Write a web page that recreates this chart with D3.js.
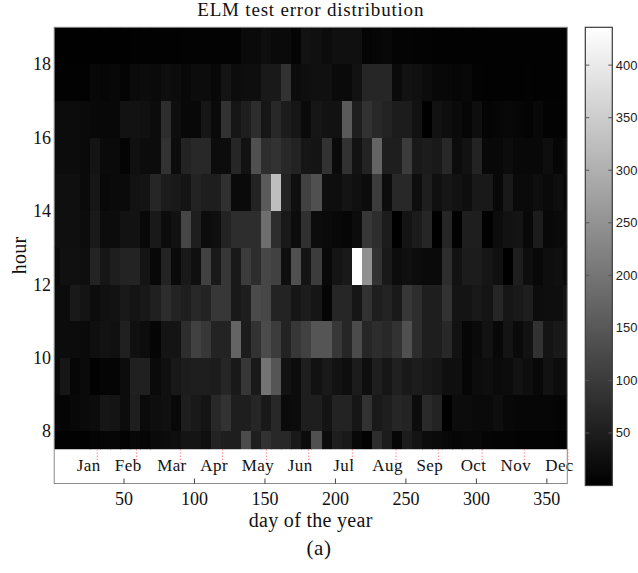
<!DOCTYPE html>
<html>
<head>
<meta charset="utf-8">
<script src="https://cdn.jsdelivr.net/npm/d3@7"></script>
<style>
  html, body { margin: 0; padding: 0; background: #fff; }
  svg { display: block; }
  .serif { font-family: "Liberation Serif", "DejaVu Serif", serif; fill: #111; }
  .sans { font-family: "Liberation Sans", Arial, sans-serif; fill: #222; }
</style>
</head>
<body>
<svg id="chart" width="638" height="573"></svg>
<script>
// Test error of the ELM model, one array per hour band (index = week of the year).
const err18 = [2,2,2,2,2,2,2,2,3,3,3,3,3, 5,5,5,5,5,5,17,17,24,17,17,9,31, 27,21,27,27,27,7,10,14,7,7,5,5,3, 3,3,3,3,3,3,3,3,3,3,3,3,3];
const err17 = [3,3,3,3,14,10,14,7,17,21,17,24,21, 14,21,21,14,34,21,24,24,43,43,86,21,24, 27,27,17,17,31,65,65,65,17,31,27,21,14, 14,10,14,5,3,3,3,3,5,3,3,3,3];
const err16 = [21,21,21,17,14,14,14,31,31,27,21,77,24, 14,14,38,17,86,38,51,77,38,68,48,38,17, 38,31,31,154,51,86,68,60,48,48,31,0,31, 24,17,10,24,7,10,14,10,7,14,5,5,5];
const err15 = [21,21,21,17,34,17,17,7,27,21,21,86,21, 60,68,68,21,21,65,31,137,77,86,68,60,38, 34,86,17,86,31,60,171,51,51,103,43,48,43, 68,21,31,60,14,14,21,14,14,14,24,10,17];
const err14 = [26,26,26,17,38,14,17,17,31,34,65,48,43, 34,60,51,51,82,17,17,60,154,325,60,26,111, 137,24,24,34,27,21,103,21,68,68,24,51,27, 38,31,24,43,43,14,43,17,17,24,17,24,14];
const err13 = [26,26,26,21,43,21,21,31,31,14,43,21,31, 120,51,21,26,60,77,77,77,188,77,43,21,82, 21,17,14,10,21,94,77,48,0,34,48,65,0, 65,3,51,51,3,21,31,34,14,48,14,17,17];
const err12 = [17,27,27,24,60,38,51,60,60,34,14,60,17, 43,26,111,43,94,43,103,77,120,111,26,137,34, 103,14,34,43,436,248,86,43,21,26,21,17,17, 77,31,48,48,38,27,0,51,24,14,24,27,17];
const err11 = [21,21,43,34,21,27,31,43,34,41,55,77,60, 51,68,60,94,94,43,51,128,120,60,60,38,48, 38,9,65,65,38,86,51,60,43,94,77,51,51, 86,34,34,43,34,65,38,43,51,21,24,24,34];
const err10 = [21,21,21,17,26,31,27,55,27,21,9,34,34, 77,111,94,60,60,171,48,86,128,103,60,94,111, 145,145,94,65,128,65,77,68,86,137,77,51,51, 68,31,10,17,31,14,34,17,31,86,34,43,43];
const err9  = [17,38,10,17,3,9,9,21,55,55,17,27,41, 48,51,51,48,65,43,94,43,197,145,31,21,51, 31,43,31,24,48,24,51,38,55,43,48,43,38, 26,26,10,21,24,17,21,31,24,14,31,21,21];
const err8  = [10,9,14,17,21,38,34,21,51,17,24,27,14, 51,43,34,68,86,51,51,65,43,68,17,21,51, 51,34,60,60,38,86,43,51,65,60,21,72,60, 0,21,21,17,17,24,14,10,10,10,10,9,9];
const err7  = [3,3,3,3,7,10,10,5,14,10,17,21,24, 34,34,26,60,51,51,128,51,86,68,68,43,21, 137,21,51,43,14,3,77,48,10,48,34,21,17, 14,10,14,14,9,7,7,5,5,5,5,3,3];

// Hour band edges (bottom band is cut at 7.5) and the bands, bottom to top.
const hourEdges = [7.5, 8, 9, 10, 11, 12, 13, 14, 15, 16, 17, 18, 19];
const bands = [err7, err8, err9, err10, err11, err12, err13, err14, err15, err16, err17, err18];

// Weekly bins spread over the year.
const firstDay = 1, lastDay = 365, weekCount = 52;

const monthNames = ["Jan","Feb","Mar","Apr","May","Jun","Jul","Aug","Sep","Oct","Nov","Dec"];
const monthEnds  = [31, 59, 90, 120, 151, 181, 212, 243, 273, 304, 334, 365];
const dayTicks   = [50, 100, 150, 200, 250, 300, 350];
const hourTicks  = [8, 10, 12, 14, 16, 18];
const colorTicks = [50, 100, 150, 200, 250, 300, 350, 400];

const svg = d3.select("#chart");

const frame = { left: 54.2, right: 567.3, top: 27.3, heatBottom: 449.3, bottom: 483.5 };
const x = d3.scaleLinear().domain([0.5, 364.5]).range([frame.left, frame.right]);
const y = d3.scaleLinear().domain([7.5, 19]).range([frame.heatBottom, frame.top]);

const allValues = bands.flat();
const color = d3.scaleLinear()
  .domain([d3.min(allValues), d3.max(allValues)])
  .range(["#000000", "#ffffff"]);

const step = (lastDay - firstDay) / (weekCount - 1);
const weekCenters = d3.range(weekCount).map(k => firstDay + k * step);

const cells = bands.flatMap((vals, i) => vals.map((v, k) => ({
  v, day: weekCenters[k], lo: hourEdges[i], hi: hourEdges[i + 1]
})));

const defs = svg.append("defs");
defs.append("clipPath").attr("id", "heat-clip")
  .append("rect")
  .attr("x", frame.left).attr("y", frame.top)
  .attr("width", frame.right - frame.left)
  .attr("height", frame.heatBottom - frame.top);

// heat map
svg.append("g").attr("clip-path", "url(#heat-clip)")
  .selectAll("rect").data(cells).join("rect")
  .attr("x", d => x(d.day - step / 2))
  .attr("width", d => x(d.day + step / 2) - x(d.day - step / 2) + 0.4)
  .attr("y", d => y(d.hi))
  .attr("height", d => y(d.lo) - y(d.hi) + 0.4)
  .attr("fill", d => color(d.v))
  .attr("shape-rendering", "crispEdges");

// month boundaries and names under the map
svg.append("g").selectAll("line").data(monthEnds).join("line")
  .attr("x1", d => x(d)).attr("x2", d => x(d))
  .attr("y1", frame.heatBottom).attr("y2", frame.heatBottom + 14)
  .attr("stroke", "#ff4040").attr("stroke-width", 1)
  .attr("stroke-dasharray", "1.2,2").attr("opacity", 0.75);

svg.append("g").selectAll("text").data(monthNames).join("text")
  .attr("class", "serif")
  .attr("x", (d, i) => x(monthEnds[i] - 6))
  .attr("y", 471)
  .attr("text-anchor", "middle")
  .attr("font-size", 17)
  .attr("letter-spacing", 0.4)
  .text(d => d);

// axes frame
svg.append("rect")
  .attr("x", frame.left).attr("y", frame.top)
  .attr("width", frame.right - frame.left)
  .attr("height", frame.bottom - frame.top)
  .attr("fill", "none").attr("stroke", "#8a8a8a").attr("stroke-width", 1);

// day-of-year ticks (inward) and labels
svg.append("g").selectAll("line").data(dayTicks).join("line")
  .attr("x1", d => x(d)).attr("x2", d => x(d))
  .attr("y1", frame.bottom - 5).attr("y2", frame.bottom)
  .attr("stroke", "#444").attr("stroke-width", 1);

svg.append("g").selectAll("text").data(dayTicks).join("text")
  .attr("class", "serif")
  .attr("x", d => x(d)).attr("y", 505)
  .attr("text-anchor", "middle")
  .attr("font-size", 18)
  .text(d => d);

// hour labels
svg.append("g").selectAll("text").data(hourTicks).join("text")
  .attr("class", "serif")
  .attr("x", 51).attr("y", d => y(d) + 6.5)
  .attr("text-anchor", "end")
  .attr("font-size", 18)
  .text(d => d);

// titles
svg.append("text").attr("class", "serif")
  .attr("x", (frame.left + frame.right) / 2).attr("y", 16)
  .attr("text-anchor", "middle").attr("font-size", 19).attr("letter-spacing", 0.8)
  .text("ELM test error distribution");

svg.append("text").attr("class", "serif")
  .attr("x", (frame.left + frame.right) / 2).attr("y", 527)
  .attr("text-anchor", "middle").attr("font-size", 20).attr("letter-spacing", 0.3)
  .text("day of the year");

svg.append("text").attr("class", "serif")
  .attr("transform", `translate(26,${(frame.top + frame.bottom) / 2}) rotate(-90)`)
  .attr("text-anchor", "middle").attr("font-size", 20).attr("letter-spacing", 0.3)
  .text("hour");

svg.append("text").attr("class", "serif")
  .attr("x", 319).attr("y", 555)
  .attr("text-anchor", "middle").attr("font-size", 21).attr("letter-spacing", 0.5)
  .text("(a)");

// colour bar
const bar = { left: 585.3, right: 612.3, top: 27.3, bottom: 485.5 };
const cy = d3.scaleLinear().domain(color.domain()).range([bar.bottom, bar.top]);

const grad = defs.append("linearGradient").attr("id", "grey-ramp")
  .attr("x1", 0).attr("y1", 1).attr("x2", 0).attr("y2", 0);
grad.append("stop").attr("offset", 0).attr("stop-color", color.range()[0]);
grad.append("stop").attr("offset", 1).attr("stop-color", color.range()[1]);

svg.append("rect")
  .attr("x", bar.left).attr("y", bar.top)
  .attr("width", bar.right - bar.left).attr("height", bar.bottom - bar.top)
  .attr("fill", "url(#grey-ramp)")
  .attr("stroke", "#3a3a3a").attr("stroke-width", 1.2);

const cbTicks = svg.append("g");
cbTicks.selectAll("line.l").data(colorTicks).join("line").attr("class", "l")
  .attr("x1", bar.left).attr("x2", bar.left + 4)
  .attr("y1", d => cy(d)).attr("y2", d => cy(d))
  .attr("stroke", "#555").attr("stroke-width", 1);
cbTicks.selectAll("line.r").data(colorTicks).join("line").attr("class", "r")
  .attr("x1", bar.right - 4).attr("x2", bar.right)
  .attr("y1", d => cy(d)).attr("y2", d => cy(d))
  .attr("stroke", "#555").attr("stroke-width", 1);
cbTicks.selectAll("text").data(colorTicks).join("text")
  .attr("class", "sans")
  .attr("x", bar.right + 3.5).attr("y", d => cy(d) + 4.5)
  .attr("font-size", 13)
  .text(d => d);
</script>
</body>
</html>
